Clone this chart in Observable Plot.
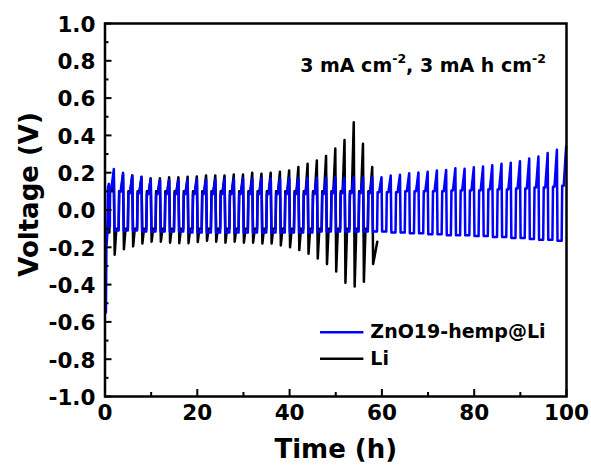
<!DOCTYPE html>
<html><head><meta charset="utf-8">
<script src="https://cdn.jsdelivr.net/npm/d3@7"></script>
<script src="https://cdn.jsdelivr.net/npm/@observablehq/plot@0.6"></script>
<style>html,body{margin:0;padding:0;background:#fff}#chart svg{display:block}</style>
</head><body><div id="chart"></div>
<script>
// ---- axes ----
const xTicks = [0, 20, 40, 60, 80, 100];
const xMinorTicks = [10, 30, 50, 70, 90];
const yTicks = [-1.0, -0.8, -0.6, -0.4, -0.2, 0.0, 0.2, 0.4, 0.6, 0.8, 1.0];
const yTickLabels = ["-1.0", "-0.8", "-0.6", "-0.4", "-0.2", "0.0", "0.2", "0.4", "0.6", "0.8", "1.0"];
const yMinorTicks = [-0.9, -0.7, -0.5, -0.3, -0.1, 0.1, 0.3, 0.5, 0.7, 0.9];
const seriesNames = ["ZnO19-hemp@Li", "Li"];
const seriesColors = ["#0000ff", "#000000"];

// ---- ZnO19-hemp@Li (blue): 2 h cycles, values read per cycle ----
const blueStartTime = [0.2, 0.3, 0.5, 0.65, 0.85, 0.95, 1.05];
const blueStartVolt = [-0.55, -0.2, -0.13, 0.12, 0.14, -0.08, -0.09];
const bluePeak = [0.22, 0.20, 0.185, 0.175, 0.165, 0.16, 0.16, 0.16, 0.165, 0.165,
  0.165, 0.165, 0.168, 0.168, 0.17, 0.168, 0.17, 0.17, 0.17, 0.172,
  0.17, 0.172, 0.172, 0.172, 0.175, 0.172, 0.175, 0.175, 0.176, 0.176,
  0.185, 0.189, 0.197, 0.201, 0.205, 0.212, 0.215, 0.224, 0.221, 0.229,
  0.233, 0.240, 0.248, 0.253, 0.262, 0.276, 0.287, 0.305, 0.323, 0.340];
const blueShoulder = [0.12, 0.10, 0.09, 0.09, 0.085, 0.085, 0.085, 0.085, 0.085, 0.085,
  0.085, 0.085, 0.085, 0.085, 0.085, 0.085, 0.085, 0.085, 0.085, 0.085,
  0.085, 0.085, 0.085, 0.085, 0.09, 0.09, 0.09, 0.09, 0.09, 0.095,
  0.095, 0.095, 0.10, 0.10, 0.10, 0.10, 0.10, 0.105, 0.105, 0.105,
  0.105, 0.11, 0.11, 0.11, 0.115, 0.115, 0.12, 0.12, 0.125, 0.13];
const blueTrough = [-0.11, -0.11, -0.11, -0.115, -0.115, -0.115, -0.115, -0.115, -0.12, -0.12,
  -0.12, -0.12, -0.12, -0.12, -0.12, -0.12, -0.12, -0.12, -0.12, -0.12,
  -0.12, -0.12, -0.115, -0.115, -0.115, -0.115, -0.115, -0.115, -0.115, -0.115,
  -0.12, -0.12, -0.125, -0.125, -0.13, -0.13, -0.135, -0.135, -0.135, -0.14,
  -0.14, -0.145, -0.145, -0.15, -0.15, -0.155, -0.16, -0.16, -0.165];

// ---- Li (black) ----
const blackStartTime = [0.2, 0.95];
const blackStartVolt = [-0.12, -0.12];
const blackPeak = [0.17, 0.19, 0.185, 0.178, 0.17, 0.17, 0.175, 0.175, 0.178, 0.18,
  0.185, 0.185, 0.185, 0.19, 0.19, 0.20, 0.195, 0.20, 0.205, 0.212,
  0.23, 0.248, 0.265, 0.29, 0.33, 0.375, 0.47, 0.355, 0.23];
const blackTrough = [-0.24, -0.21, -0.195, -0.18, -0.17, -0.17, -0.175, -0.178, -0.178, -0.172,
  -0.165, -0.17, -0.175, -0.17, -0.175, -0.175, -0.18, -0.18, -0.19, -0.20,
  -0.215, -0.235, -0.26, -0.29, -0.33, -0.39, -0.41, -0.385, -0.29];
const blackPlateauPos = 0.1, blackPlateauNeg = -0.1;
const blackEndTime = [59];
const blackEndVolt = [-0.17];

// ---- build tables ----
const blue = [];
blueStartTime.forEach((t, i) => blue.push({t, v: blueStartVolt[i]}));
bluePeak.forEach((p, i) => {
  const k = i + 1;
  blue.push({t: 2 * k - 0.93, v: blueShoulder[i]});
  blue.push({t: 2 * k - 0.6, v: blueShoulder[i]});
  blue.push({t: 2 * k - 0.08, v: p});
  if (i < blueTrough.length) {
    blue.push({t: 2 * k + 0.05, v: blueTrough[i]});
    blue.push({t: 2 * k + 0.95, v: blueTrough[i]});
  }
});
const black = [];
blackStartTime.forEach((t, i) => black.push({t, v: blackStartVolt[i]}));
blackPeak.forEach((p, i) => {
  const k = i + 1;
  black.push({t: 2 * k - 0.93, v: blackPlateauPos});
  black.push({t: 2 * k - 0.5, v: blackPlateauPos});
  black.push({t: 2 * k - 0.1, v: p});
  black.push({t: 2 * k + 0.1, v: blackTrough[i]});
  if (i < blackPeak.length - 1) {
    black.push({t: 2 * k + 0.45, v: blackPlateauNeg});
    black.push({t: 2 * k + 0.95, v: blackPlateauNeg});
  }
});
blackEndTime.forEach((t, i) => black.push({t, v: blackEndVolt[i]}));

const W = 591, H = 467, mL = 104.5, mR = 25, mT = 23, mB = 71;
const innerW = W - mL - mR, innerH = H - mT - mB;
const FONT = "DejaVu Sans";

const plot = Plot.plot({
  width: W, height: H,
  marginLeft: mL, marginRight: mR, marginTop: mT, marginBottom: mB,
  x: {domain: [0, 100], axis: null},
  y: {domain: [-1, 1], axis: null},
  style: {fontFamily: FONT, fontWeight: "bold", background: "#fff", overflow: "visible"},
  marks: [
    Plot.line(black, {x: "t", y: "v", stroke: seriesColors[1], strokeWidth: 2.5, strokeLinejoin: "round"}),
    Plot.line(blue, {x: "t", y: "v", stroke: seriesColors[0], strokeWidth: 2.5, strokeLinejoin: "round"}),
    Plot.frame({stroke: "#000", strokeWidth: 2.5}),
    Plot.tickX(xTicks, {x: d => d, insetTop: innerH - 7, stroke: "#000", strokeWidth: 2}),
    Plot.tickX(xMinorTicks, {x: d => d, insetTop: innerH - 4, stroke: "#000", strokeWidth: 2}),
    Plot.tickY(yTicks, {y: d => d, insetRight: innerW - 7, stroke: "#000", strokeWidth: 2}),
    Plot.tickY(yMinorTicks, {y: d => d, insetRight: innerW - 4, stroke: "#000", strokeWidth: 2}),
    Plot.text(xTicks, {x: d => d, text: d => String(d), frameAnchor: "bottom", lineAnchor: "top", dy: 8,
      fontSize: 21.5, fontWeight: "bold", fill: "#000"}),
    Plot.text(yTicks, {y: d => d, text: (d, i) => yTickLabels[i], frameAnchor: "left", textAnchor: "end",
      lineAnchor: "middle", dx: -9.5, dy: 1.5, fontSize: 21.5, fontWeight: "bold", fill: "#000"}),
    Plot.text(["Time (h)"], {frameAnchor: "bottom", lineAnchor: "bottom", dy: 61, fontSize: 26, fontWeight: "bold", fill: "#000"}),
    Plot.text(["Voltage (V)"], {frameAnchor: "left", rotate: -90, lineAnchor: "bottom", textAnchor: "middle",
      dx: 37 - mL, dy: -15.5, fontSize: 26, fontWeight: "bold", fill: "#000"}),
    // legend
    Plot.ruleY([-0.655], {x1: 46.7, x2: 56.1, stroke: seriesColors[0], strokeWidth: 2.5}),
    Plot.ruleY([-0.798], {x1: 46.7, x2: 56.1, stroke: seriesColors[1], strokeWidth: 2.5}),
    Plot.text([seriesNames[0]], {x: 57.5, y: -0.655, textAnchor: "start", lineAnchor: "middle", fontSize: 19, fontWeight: "bold", fill: "#000"}),
    Plot.text([seriesNames[1]], {x: 57.5, y: -0.798, textAnchor: "start", lineAnchor: "middle", fontSize: 19, fontWeight: "bold", fill: "#000"})
  ]
});
document.getElementById("chart").appendChild(plot);

// annotation with superscripts
const svg = d3.select(plot);
const xs = plot.scale("x"), ys = plot.scale("y");
const ann = svg.append("text")
  .attr("x", xs.apply(42.4)).attr("y", ys.apply(0.739))
  .attr("text-anchor", "start")
  .attr("font-family", FONT).attr("font-weight", "bold").attr("font-size", 19).attr("fill", "#000");
ann.append("tspan").text("3 mA cm");
ann.append("tspan").attr("font-size", 12.5).attr("dy", -9).text("-2");
ann.append("tspan").attr("dy", 9).text(", 3 mA h cm");
ann.append("tspan").attr("font-size", 12.5).attr("dy", -9).text("-2");
</script>
</body></html>
